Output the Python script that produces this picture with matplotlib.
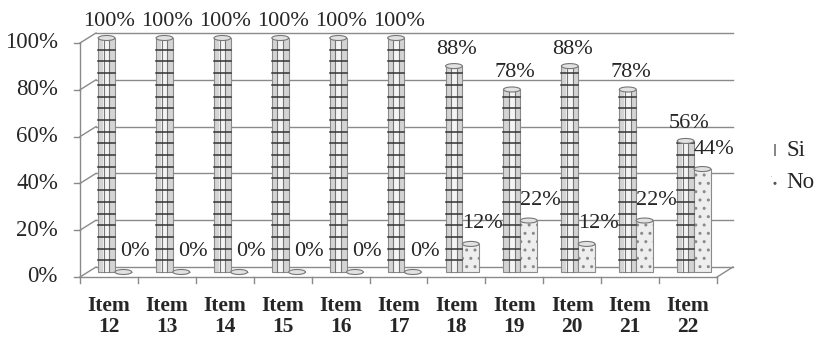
import matplotlib
matplotlib.use("Agg")
import matplotlib.pyplot as plt
from matplotlib.patches import Rectangle, Ellipse

items = ["Item\n12", "Item\n13", "Item\n14", "Item\n15", "Item\n16", "Item\n17",
         "Item\n18", "Item\n19", "Item\n20", "Item\n21", "Item\n22"]
si = [100, 100, 100, 100, 100, 100, 88, 78, 88, 78, 56]
no = [0, 0, 0, 0, 0, 0, 12, 22, 12, 22, 44]
yticks = [0, 20, 40, 60, 80, 100]

plt.rcParams["font.family"] = ["Liberation Serif", "DejaVu Serif"]

W, H = 826, 337
fig = plt.figure(figsize=(W / 100, H / 100), dpi=100)
ax = fig.add_axes([80 / W, (H - 277) / H, (717 - 80) / W, (277 - 43) / H])
n = len(items)
ax.set_xlim(0, n)
ax.set_ylim(0, 100)
ax.axis("off")

# pixel -> data unit sizes, used for the fake 3d depth
ux = (717 - 80) / n
uy = (277 - 43) / 100
bx, by = 16 / ux, 10 / uy   # back wall
mx, my = 8 / ux, 5 / uy     # bar plane

grid = "#8a8a8a"
txt = "#262626"
kw = dict(color=grid, lw=1, clip_on=False)

# back wall gridlines + left wall diagonals + ticks
for v in yticks:
    ax.plot([bx, n + bx], [v + by, v + by], **kw)
    ax.plot([0, bx], [v, v + by], **kw)
    ax.plot([-6 / ux, 0], [v, v], **kw)
    ax.annotate(f"{v}%", (0, v), xytext=(-22, 0), textcoords="offset pixels",
                ha="right", va="center", fontsize=16.5, color=txt,
                annotation_clip=False)
ax.plot([0, 0], [0, 100], **kw)

# floor
ax.plot([0, n], [0, 0], **kw)
ax.plot([n, n + bx], [0, by], **kw)
for k in range(n + 1):
    ax.plot([k, k], [0, -6 / uy], **kw)
for k, lab in enumerate(items):
    ax.annotate(lab, (k + 0.5, 0), xytext=(0, -19), textcoords="offset pixels",
                ha="center", va="top", fontsize=15.5, fontweight="bold",
                linespacing=1.1, color=txt, annotation_clip=False)

bw = 0.29
eh = 5 / uy


def cylinder(x0, val, style):
    base = my
    if style == "si":
        ax.add_patch(Rectangle((x0, base), bw, val, facecolor="#d4d4d4",
                               edgecolor="#8a8a8a", lw=0.8, clip_on=False, zorder=3))
        ax.add_patch(Rectangle((x0 + bw * 0.3, base), bw * 0.4, val, facecolor="#f4f4f4",
                               edgecolor="none", clip_on=False, zorder=3))
        for f in (1 / 3, 2 / 3):
            ax.plot([x0 + bw * f] * 2, [base, base + val], color="#777", lw=0.8,
                    clip_on=False, zorder=4)
        h = 5
        while h < val:
            ax.plot([x0, x0 + bw], [base + h, base + h], color="#333", lw=1.1,
                    clip_on=False, zorder=4)
            h += 5
    else:
        ax.add_patch(Rectangle((x0, base), bw, val, facecolor="#eeeeee",
                               edgecolor="#8a8a8a", hatch="..", lw=0.8,
                               clip_on=False, zorder=3))
    ax.add_patch(Ellipse((x0 + bw / 2, base + val), bw, eh, facecolor="#e2e2e2",
                         edgecolor="#777", lw=0.8, clip_on=False, zorder=5))


for k in range(n):
    xs = k + 0.175 + mx
    xn = k + 0.465 + mx
    cylinder(xs, si[k], "si")
    cylinder(xn, no[k], "no")
    ax.annotate(f"{si[k]}%", (xs + bw / 2, si[k] + my), xytext=(3, 17),
                textcoords="offset pixels", ha="center", va="center",
                fontsize=16, color=txt, zorder=6, annotation_clip=False)
    ax.annotate(f"{no[k]}%", (xn + bw / 2, no[k] + my), xytext=(12, 20),
                textcoords="offset pixels", ha="center", va="center",
                fontsize=16, color=txt, zorder=6, annotation_clip=False)

# legend
fig.patches.append(Rectangle((771 / W, 1 - 156 / H), 7 / W, 12 / H, transform=fig.transFigure,
                             facecolor="white", edgecolor="#555", lw=0, hatch="+"))
fig.patches.append(Rectangle((771 / W, 1 - 188 / H), 7 / W, 12 / H, transform=fig.transFigure,
                             facecolor="white", edgecolor="#555", lw=0, hatch=".."))
fig.text(786 / W, 1 - 150 / H, "Si", fontsize=16.5, va="center", color=txt)
fig.text(786 / W, 1 - 182 / H, "No", fontsize=16.5, va="center", color=txt)

fig.savefig("out.png", dpi=100)
